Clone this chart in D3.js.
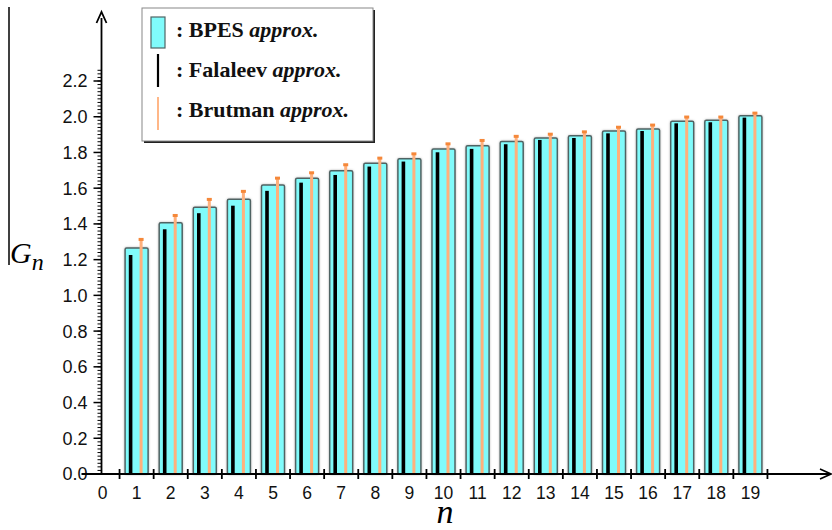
<!DOCTYPE html>
<html>
<head>
<meta charset="utf-8">
<script src="https://cdn.jsdelivr.net/npm/d3@7"></script>
<style>
  body { margin: 0; background: #fff; }
  svg { display: block; }
</style>
</head>
<body>
<svg id="chart" width="832" height="530"></svg>
<script>
// data
const nValues = [1, 2, 3, 4, 5, 6, 7, 8, 9, 10, 11, 12, 13, 14, 15, 16, 17, 18, 19];
const bpes = [1.265, 1.407, 1.493, 1.538, 1.618, 1.656, 1.698, 1.739, 1.765, 1.820,
              1.838, 1.862, 1.881, 1.894, 1.920, 1.931, 1.974, 1.980, 2.006];
const falaleev = [1.226, 1.370, 1.460, 1.502, 1.585, 1.631, 1.674, 1.721, 1.749, 1.801,
                  1.820, 1.846, 1.870, 1.881, 1.907, 1.920, 1.963, 1.969, 1.995];
const brutman = [1.316, 1.450, 1.540, 1.585, 1.659, 1.689, 1.734, 1.771, 1.795, 1.851,
                 1.870, 1.893, 1.905, 1.918, 1.944, 1.956, 2.001, 2.001, 2.023];
const xTickLabels = d3.range(0, 20);
const yTickLabels = [0.0, 0.2, 0.4, 0.6, 0.8, 1.0, 1.2, 1.4, 1.6, 1.8, 2.0, 2.2];
const legendItems = ["BPES", "Falaleev", "Brutman"];

const svg = d3.select("#chart");

const xScale = d3.scaleLinear().domain([0, 1]).range([102.5, 136.6]);
const yScale = d3.scaleLinear().domain([0, 2.2]).range([474, 81]);
const x0 = xScale(0) - 1;
const y0 = yScale(0);

const defs = svg.append("defs");
const shadow = defs.append("filter").attr("id", "glow")
    .attr("x", "-30%").attr("y", "-5%").attr("width", "160%").attr("height", "110%");
shadow.append("feGaussianBlur").attr("in", "SourceAlpha").attr("stdDeviation", 1.2).attr("result", "b");
shadow.append("feFlood").attr("flood-color", "#999").attr("flood-opacity", 0.7);
shadow.append("feComposite").attr("in2", "b").attr("operator", "in").attr("result", "s");
const merge = shadow.append("feMerge");
merge.append("feMergeNode").attr("in", "s");
merge.append("feMergeNode").attr("in", "SourceGraphic");

// stray frame line at far left
svg.append("line")
    .attr("x1", 9).attr("x2", 9).attr("y1", 7).attr("y2", 265)
    .attr("stroke", "#000").attr("stroke-width", 1.5);

// bars
const groups = svg.append("g").selectAll("g")
    .data(nValues.map((n, i) => ({ n, b: bpes[i], f: falaleev[i], r: brutman[i] })))
    .join("g");

groups.append("rect")
    .attr("x", d => xScale(d.n) - 11.5)
    .attr("y", d => yScale(d.b))
    .attr("width", 23)
    .attr("height", d => y0 - yScale(d.b))
    .attr("rx", 1.5)
    .attr("fill", "#80fbfb")
    .attr("stroke", "#4f6464")
    .attr("stroke-width", 1.5)
    .attr("filter", "url(#glow)");

groups.append("rect")
    .attr("x", d => xScale(d.n) - 7.8)
    .attr("y", d => yScale(d.f))
    .attr("width", 3.6)
    .attr("height", d => y0 - yScale(d.f))
    .attr("fill", "#000");

groups.append("rect")
    .attr("x", d => xScale(d.n) + 3)
    .attr("y", d => yScale(d.r))
    .attr("width", 3)
    .attr("height", d => y0 - yScale(d.r))
    .attr("fill", "#ffb07c");

groups.append("rect")
    .attr("x", d => xScale(d.n) + 2)
    .attr("y", d => yScale(d.r) - 1)
    .attr("width", 5)
    .attr("height", 3)
    .attr("fill", "#f5883a");

// y axis
const yAxisG = svg.append("g").attr("transform", `translate(${x0},0)`);
yAxisG.selectAll(".minor")
    .data(d3.range(0, 114).map(i => i * 0.02))
    .join("line")
    .attr("x1", -4).attr("x2", 0)
    .attr("y1", d => yScale(d)).attr("y2", d => yScale(d))
    .attr("stroke", "#000").attr("stroke-width", 1);
yAxisG.selectAll(".major")
    .data(yTickLabels)
    .join("line")
    .attr("x1", -8).attr("x2", 0)
    .attr("y1", d => yScale(d)).attr("y2", d => yScale(d))
    .attr("stroke", "#000").attr("stroke-width", 1.5);
yAxisG.selectAll("text")
    .data(yTickLabels)
    .join("text")
    .attr("x", -14)
    .attr("y", d => yScale(d))
    .attr("dy", "0.36em")
    .attr("text-anchor", "end")
    .attr("font-family", "Liberation Sans, Arial, sans-serif")
    .attr("font-size", 18)
    .attr("fill", "#111")
    .text(d => d.toFixed(1));
yAxisG.append("line")
    .attr("x1", 0).attr("x2", 0).attr("y1", y0 + 1).attr("y2", 18)
    .attr("stroke", "#000").attr("stroke-width", 1.8);
yAxisG.append("path")
    .attr("d", "M-5,23 L0,12 L5,23")
    .attr("fill", "none").attr("stroke", "#000").attr("stroke-width", 1.8);

// x axis
const xAxisG = svg.append("g").attr("transform", `translate(0,${y0})`);
xAxisG.append("line")
    .attr("x1", x0 - 20).attr("x2", 830).attr("y1", 0).attr("y2", 0)
    .attr("stroke", "#000").attr("stroke-width", 1.8);
xAxisG.append("path")
    .attr("d", "M820,-5 L831,0 L820,5")
    .attr("fill", "none").attr("stroke", "#000").attr("stroke-width", 1.6);
xAxisG.selectAll(".tick")
    .data(d3.range(0, 20).map(i => i + 0.5))
    .join("line")
    .attr("x1", d => xScale(d)).attr("x2", d => xScale(d))
    .attr("y1", -5).attr("y2", 5)
    .attr("stroke", "#000").attr("stroke-width", 1.8);
xAxisG.selectAll("text")
    .data(xTickLabels)
    .join("text")
    .attr("x", d => xScale(d))
    .attr("y", 25)
    .attr("text-anchor", "middle")
    .attr("font-family", "Liberation Sans, Arial, sans-serif")
    .attr("font-size", 17.5)
    .attr("fill", "#111")
    .text(d => d);

// axis titles
const gLabel = svg.append("text")
    .attr("x", 10).attr("y", 263)
    .attr("font-family", "Liberation Serif, Times New Roman, serif")
    .attr("font-style", "italic")
    .attr("font-size", 30);
gLabel.append("tspan").text("G");
gLabel.append("tspan").attr("dy", 7).attr("font-size", 24).text("n");

svg.append("text")
    .attr("x", 445).attr("y", 523)
    .attr("text-anchor", "middle")
    .attr("font-family", "Liberation Serif, Times New Roman, serif")
    .attr("font-style", "italic")
    .attr("font-size", 34)
    .text("n");

// legend
const legend = svg.append("g");
legend.append("rect")
    .attr("x", 144).attr("y", 10).attr("width", 231).attr("height", 133)
    .attr("fill", "#222");
legend.append("rect")
    .attr("x", 142).attr("y", 8).attr("width", 231).attr("height", 133)
    .attr("fill", "#fff").attr("stroke", "#888").attr("stroke-width", 1);

legend.append("rect")
    .attr("x", 151).attr("y", 17).attr("width", 14).attr("height", 31)
    .attr("fill", "#80fbfb").attr("stroke", "#4f6464").attr("stroke-width", 1.2);
legend.append("line")
    .attr("x1", 158).attr("x2", 158).attr("y1", 54).attr("y2", 87)
    .attr("stroke", "#000").attr("stroke-width", 2.2);
legend.append("line")
    .attr("x1", 158).attr("x2", 158).attr("y1", 97).attr("y2", 130)
    .attr("stroke", "#ffa56a").attr("stroke-width", 1.6);

const legendText = legend.selectAll(".lt")
    .data(legendItems)
    .join("text")
    .attr("x", 176)
    .attr("y", (d, i) => 37 + i * 40)
    .attr("font-family", "Liberation Serif, Times New Roman, serif")
    .attr("font-weight", "bold")
    .attr("font-size", 22)
    .attr("fill", "#111");
legendText.append("tspan").text(d => ": " + d + (d === "Brutman" ? "  " : " "));
legendText.append("tspan").attr("font-style", "italic").text("approx.");
</script>
</body>
</html>
